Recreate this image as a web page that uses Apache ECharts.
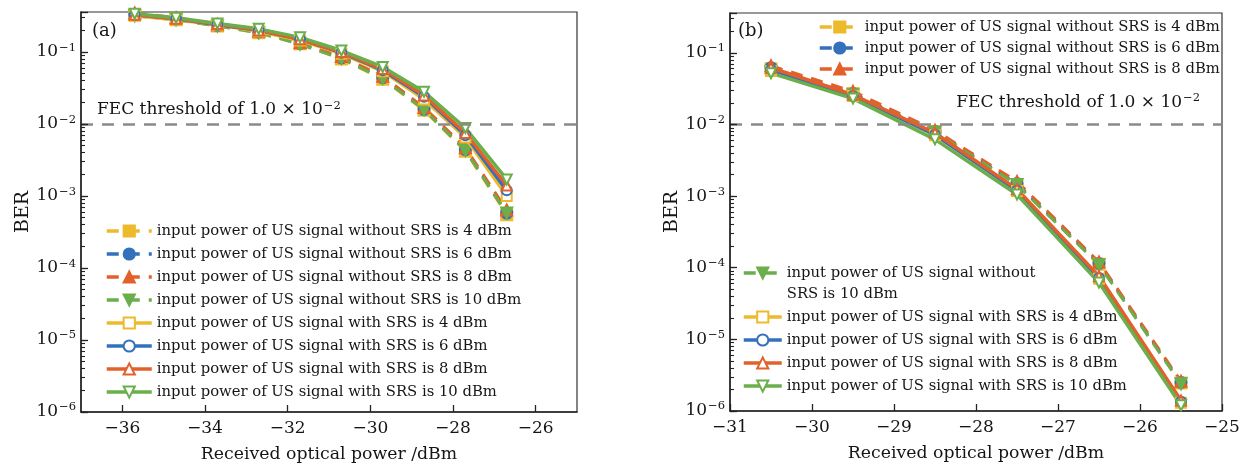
<!DOCTYPE html>
<html>
<head>
<meta charset="utf-8">
<script src="https://cdn.jsdelivr.net/npm/echarts@6/dist/echarts.min.js"></script>
<style>
  html, body { margin: 0; padding: 0; background: #fff; }
  #chart { width: 1243px; height: 467px; }
</style>
</head>
<body>
<div id="chart"></div>
<script>
// ---- panel (a): received power sweep, x in dBm ----
const xPowerA = [-35.7, -34.7, -33.7, -32.7, -31.7, -30.7, -29.7, -28.7, -27.7, -26.7];
const berA_wo4  = [0.33, 0.28, 0.23, 0.185, 0.13, 0.080, 0.042, 0.0155, 0.0042, 0.00055];
const berA_wo6  = [0.33, 0.285, 0.235, 0.19, 0.132, 0.083, 0.044, 0.0160, 0.0044, 0.00058];
const berA_wo8  = [0.35, 0.30, 0.24, 0.195, 0.135, 0.087, 0.046, 0.0170, 0.0047, 0.00064];
const berA_wo10 = [0.32, 0.28, 0.23, 0.185, 0.128, 0.081, 0.043, 0.0158, 0.0043, 0.00058];
const berA_w4   = [0.32, 0.28, 0.24, 0.195, 0.145, 0.095, 0.054, 0.022, 0.0065, 0.0010];
const berA_w6   = [0.33, 0.29, 0.24, 0.20, 0.15, 0.098, 0.056, 0.024, 0.0070, 0.0012];
const berA_w8   = [0.33, 0.29, 0.245, 0.20, 0.15, 0.100, 0.058, 0.025, 0.0075, 0.0014];
const berA_w10  = [0.34, 0.30, 0.25, 0.21, 0.16, 0.105, 0.062, 0.028, 0.0088, 0.0017];

// ---- panel (b) ----
const xPowerB = [-30.5, -29.5, -28.5, -27.5, -26.5, -25.5];
const berB_wo4  = [0.060, 0.027, 0.0080, 0.00145, 0.000112, 2.45e-6];
const berB_wo6  = [0.062, 0.027, 0.0080, 0.00150, 0.000115, 2.5e-6];
const berB_wo8  = [0.066, 0.029, 0.0083, 0.00160, 0.000120, 2.6e-6];
const berB_wo10 = [0.055, 0.026, 0.0078, 0.00145, 0.000110, 2.4e-6];
const berB_w4   = [0.056, 0.025, 0.0071, 0.00118, 0.000070, 1.3e-6];
const berB_w6   = [0.058, 0.025, 0.0072, 0.00120, 0.000072, 1.35e-6];
const berB_w8   = [0.062, 0.026, 0.0076, 0.00125, 0.000076, 1.4e-6];
const berB_w10  = [0.052, 0.023, 0.0062, 0.00105, 0.000062, 1.2e-6];

// axis settings
const xTicksA = [-36, -34, -32, -30, -28, -26];
const xTicksB = [-31, -30, -29, -28, -27, -26, -25];
const fecThreshold = 1.0e-2;
const yMin = 1e-6;
const yMax = 0.36;

const names = {
  wo4:  'input power of US signal without SRS is 4 dBm',
  wo6:  'input power of US signal without SRS is 6 dBm',
  wo8:  'input power of US signal without SRS is 8 dBm',
  wo10: 'input power of US signal without SRS is 10 dBm',
  w4:   'input power of US signal with SRS is 4 dBm',
  w6:   'input power of US signal with SRS is 6 dBm',
  w8:   'input power of US signal with SRS is 8 dBm',
  w10:  'input power of US signal with SRS is 10 dBm'
};

const FONT = 'DejaVu Serif';
const INK = '#151515';
const C = { y: '#EDBA2C', b: '#3371BD', o: '#E3602B', g: '#6AAF4B' };

const look = {
  wo4:  { color: C.y, symbol: 'rect',          rot: 0,   dashed: true },
  wo6:  { color: C.b, symbol: 'circle',        rot: 0,   dashed: true },
  wo8:  { color: C.o, symbol: 'triangle',      rot: 0,   dashed: true },
  wo10: { color: C.g, symbol: 'triangle',      rot: 180, dashed: true },
  w4:   { color: C.y, symbol: 'emptyRect',     rot: 0,   dashed: false },
  w6:   { color: C.b, symbol: 'emptyCircle',   rot: 0,   dashed: false },
  w8:   { color: C.o, symbol: 'emptyTriangle', rot: 0,   dashed: false },
  w10:  { color: C.g, symbol: 'emptyTriangle', rot: 180, dashed: false }
};

function pairs(xs, ys) { return xs.map((x, i) => [x, ys[i]]); }

function makeSeries(key, xs, ys, axisIdx) {
  const s = look[key];
  return {
    name: names[key],
    type: 'line',
    xAxisIndex: axisIdx,
    yAxisIndex: axisIdx,
    data: pairs(xs, ys),
    symbol: s.symbol,
    symbolRotate: s.rot,
    symbolSize: s.dashed ? 11 : 10,
    lineStyle: { color: s.color, width: s.dashed ? 3 : 3.5, type: s.dashed ? [12, 9] : 'solid' },
    itemStyle: { color: s.color, borderColor: s.color, borderWidth: 2 },
    z: s.dashed ? 2 : 3
  };
}

function fecLine(position, distance) {
  return {
    silent: true,
    symbol: 'none',
    lineStyle: { color: '#8a8a8a', width: 2.5, type: [12, 9] },
    label: {
      show: true,
      position: position,
      distance: distance,
      formatter: 'FEC threshold of 1.0 × 10{sup|−2}',
      fontFamily: FONT,
      fontSize: 17,
      color: INK,
      rich: { sup: { fontFamily: FONT, fontSize: 11.5, verticalAlign: 'top', padding: [0, 0, 8, 1] } }
    },
    data: [{ yAxis: fecThreshold }]
  };
}

const minus = v => String(v).replace('-', '−');

function logLabel(v) {
  const e = Math.log10(v);
  if (Math.abs(e - Math.round(e)) > 1e-6) return '';
  return '10{sup|−' + (-Math.round(e)) + '}';
}

// log-spaced tick positions (1..9 × 10^n) for the minor-tick overlay axes
const minorTickLogs = [];
for (let n = -6; n <= -1; n++) {
  for (let k = 1; k <= 9; k++) {
    const v = Math.log10(k * Math.pow(10, n));
    if (v <= Math.log10(yMax)) minorTickLogs.push(v);
  }
}

function logYAxis(gridIdx) {
  return {
    type: 'log',
    gridIndex: gridIdx,
    min: yMin,
    max: yMax,
    logBase: 10,
    name: 'BER',
    nameLocation: 'middle',
    nameGap: 43,
    nameTextStyle: { fontFamily: FONT, fontSize: 19, color: INK },
    axisLine: { show: true, lineStyle: { color: '#222', width: 1.5 } },
    axisTick: { show: true, inside: true, length: 7, lineStyle: { color: '#222', width: 1.3 } },
    splitLine: { show: false },
    axisLabel: {
      formatter: logLabel,
      fontFamily: FONT,
      fontSize: 17,
      color: INK,
      margin: 5,
      rich: { sup: { fontFamily: FONT, fontSize: 11.5, verticalAlign: 'top', padding: [0, 0, 9, 1] } }
    },
    z: 5
  };
}

// overlay grid axes: only carry the 2..9 minor ticks of the log scale
function tickYAxis(gridIdx) {
  return {
    type: 'value',
    gridIndex: gridIdx,
    position: 'left',
    min: -6,
    max: Math.log10(yMax),
    axisLine: { show: false },
    axisLabel: { show: false },
    splitLine: { show: false },
    axisTick: {
      show: true, inside: true, length: 4,
      customValues: minorTickLogs,
      lineStyle: { color: '#222', width: 1.1 }
    },
    z: 5
  };
}

function hiddenXAxis(gridIdx) {
  return { type: 'value', gridIndex: gridIdx, min: 0, max: 1, show: false };
}

function xAxis(gridIdx, min, max, ticks) {
  return {
    type: 'value',
    gridIndex: gridIdx,
    min: min,
    max: max,
    name: 'Received optical power /dBm',
    nameLocation: 'middle',
    nameGap: 34,
    nameTextStyle: { fontFamily: FONT, fontSize: 17.3, color: INK },
    axisLine: { show: true, lineStyle: { color: '#222', width: 1.5 } },
    axisTick: { show: true, inside: true, length: 7, customValues: ticks, lineStyle: { color: '#222', width: 1.3 } },
    splitLine: { show: false },
    axisLabel: {
      customValues: ticks,
      formatter: minus,
      fontFamily: FONT,
      fontSize: 17,
      color: INK,
      margin: 8
    }
  };
}

const legendText = { fontFamily: FONT, fontSize: 14.8, color: INK, lineHeight: 18 };
const legendLine = { width: 3.5 };

const seriesA = [
  makeSeries('wo4', xPowerA, berA_wo4, 0),
  makeSeries('wo6', xPowerA, berA_wo6, 0),
  makeSeries('wo8', xPowerA, berA_wo8, 0),
  makeSeries('wo10', xPowerA, berA_wo10, 0),
  makeSeries('w4', xPowerA, berA_w4, 0),
  makeSeries('w6', xPowerA, berA_w6, 0),
  makeSeries('w8', xPowerA, berA_w8, 0),
  makeSeries('w10', xPowerA, berA_w10, 0)
];
seriesA[0].markLine = fecLine('insideStartTop', [16, 4]);

const seriesB = [
  makeSeries('wo4', xPowerB, berB_wo4, 1),
  makeSeries('wo6', xPowerB, berB_wo6, 1),
  makeSeries('wo8', xPowerB, berB_wo8, 1),
  makeSeries('wo10', xPowerB, berB_wo10, 1),
  makeSeries('w4', xPowerB, berB_w4, 1),
  makeSeries('w6', xPowerB, berB_w6, 1),
  makeSeries('w8', xPowerB, berB_w8, 1),
  makeSeries('w10', xPowerB, berB_w10, 1)
];
seriesB[0].markLine = fecLine('insideEndTop', [22, 12]);

// fixed plot rectangles; outer-bounds fitting off so the rectangles stay put
const rectA = { left: 81, top: 12, width: 496, height: 400, outerBoundsMode: 'none' };
const rectB = { left: 730, top: 13, width: 492, height: 398, outerBoundsMode: 'none' };
const frame = { show: true, borderColor: '#333', borderWidth: 1.2, backgroundColor: 'transparent' };

const option = {
  animation: false,
  backgroundColor: '#fff',
  title: [
    { text: '(a)', left: 92, top: 22, padding: 0, textStyle: { fontFamily: FONT, fontSize: 18, fontWeight: 'normal', color: INK } },
    { text: '(b)', left: 738, top: 22, padding: 0, textStyle: { fontFamily: FONT, fontSize: 18, fontWeight: 'normal', color: INK } }
  ],
  grid: [
    Object.assign({}, rectA, frame),
    Object.assign({}, rectB, frame),
    Object.assign({}, rectA),
    Object.assign({}, rectB)
  ],
  xAxis: [ xAxis(0, -37, -25, xTicksA), xAxis(1, -31, -25, xTicksB), hiddenXAxis(2), hiddenXAxis(3) ],
  yAxis: [ logYAxis(0), logYAxis(1), tickYAxis(2), tickYAxis(3) ],
  legend: [
    {
      orient: 'vertical', left: 105, top: 222, padding: 0,
      itemWidth: 45, itemHeight: 14, itemGap: 5,
      textStyle: legendText, lineStyle: legendLine,
      data: [names.wo4, names.wo6, names.wo8, names.wo10, names.w4, names.w6, names.w8, names.w10]
    },
    {
      orient: 'vertical', left: 818, top: 18, padding: 0,
      itemWidth: 40, itemHeight: 14, itemGap: 3,
      textStyle: legendText, lineStyle: legendLine,
      data: [names.wo4, names.wo6, names.wo8]
    },
    {
      orient: 'vertical', left: 742, top: 241.5, padding: 0,
      itemWidth: 38, itemHeight: 14, itemGap: 2,
      textStyle: Object.assign({}, legendText, { lineHeight: 21 }), lineStyle: legendLine,
      // the long entry wraps; the leading blank line keeps its first line level with the icon
      formatter: n => n === names.wo10 ? ' \ninput power of US signal without\nSRS is 10 dBm' : n,
      data: [names.wo10, names.w4, names.w6, names.w8, names.w10]
    }
  ],
  series: [...seriesA, ...seriesB]
};

const chart = echarts.init(document.getElementById('chart'), null, { renderer: 'canvas' });
chart.setOption(option);
</script>
</body>
</html>
